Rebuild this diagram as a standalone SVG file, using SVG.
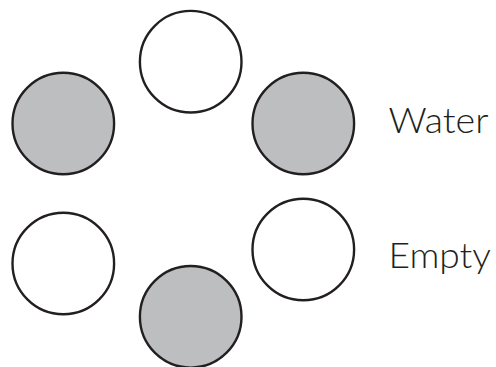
<svg xmlns="http://www.w3.org/2000/svg" width="496" height="367" viewBox="0 0 496 367">
<style>
.c{stroke:#231f20;stroke-width:2.4;}
.w{fill:#ffffff;}
.g{fill:#bcbec0;}
.t{font-family:Lato,"Open Sans",sans-serif;font-weight:300;font-size:36px;fill:#231f20;}
</style>
<rect width="496" height="367" fill="#ffffff"/>
<g id="top"><circle class="c w" cx="190.7" cy="61.7" r="50.8"/></g>
<g id="upper-left"><circle class="c g" cx="63.3" cy="123.5" r="50.8"/></g>
<g id="upper-right"><circle class="c g" cx="303.3" cy="123.5" r="50.8"/></g>
<g id="lower-left"><circle class="c w" cx="63.3" cy="263.5" r="50.8"/></g>
<g id="lower-right"><circle class="c w" cx="303.3" cy="249.5" r="50.8"/></g>
<g id="bottom"><circle class="c g" cx="190.7" cy="316.8" r="50.8"/></g>
<g id="legend">
<text class="t" x="388.5" y="132.7" textLength="100" lengthAdjust="spacingAndGlyphs">Water</text>
<text class="t" x="388.5" y="268.3" textLength="102.5" lengthAdjust="spacingAndGlyphs">Empty</text>
</g>
<g id="connectors"></g>
</svg>
